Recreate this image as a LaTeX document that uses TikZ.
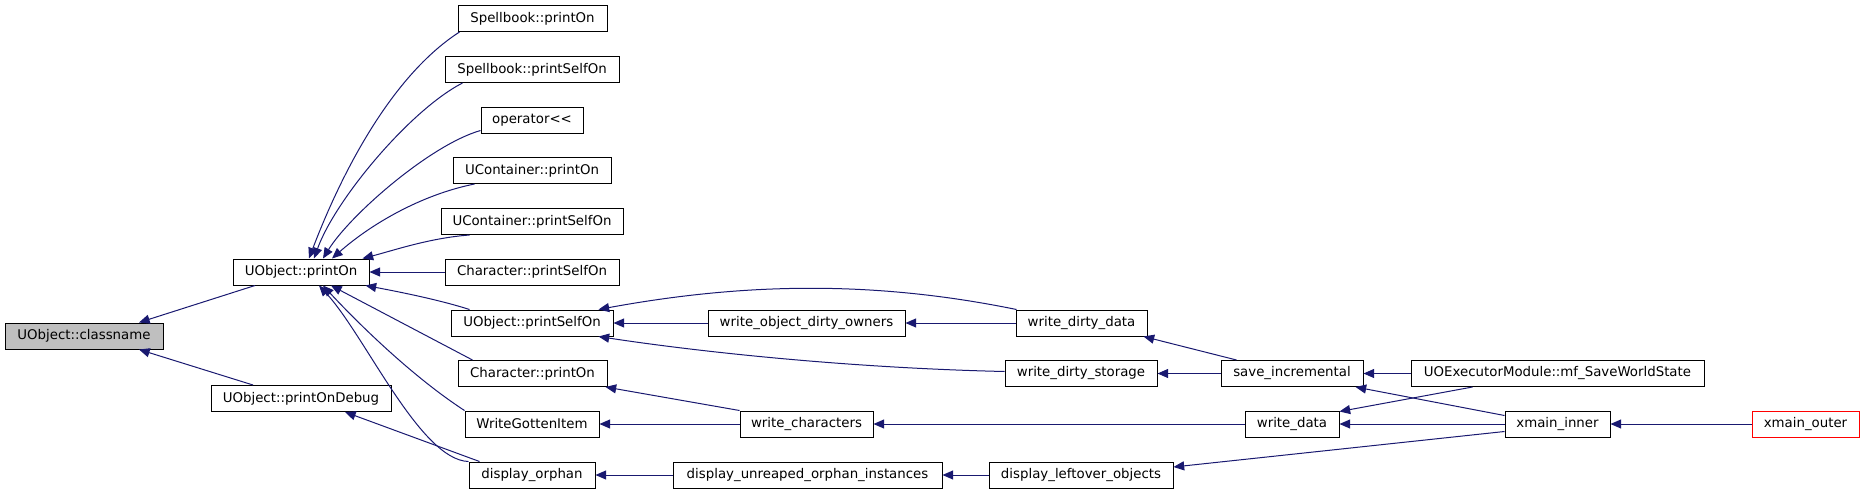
\documentclass[tikz,border=0pt]{standalone}
\usepackage{fontspec}
\setmainfont{DejaVu Sans}
\usetikzlibrary{calc,arrows.meta}
\definecolor{edgeblue}{HTML}{191970}
\definecolor{boxgray}{HTML}{BFBFBF}
\tikzset{
  box/.style={draw=black, line width=0.75pt, minimum height=19.5pt, inner sep=0pt,
    font=\fontsize{10pt}{12pt}\selectfont},
  bw/.style={minimum width=#1*0.75pt},
  arr/.style={draw=edgeblue, line width=0.75pt, {Triangle[length=8pt,width=6.8pt]}-},
}
\begin{document}
\begin{tikzpicture}[x=0.75pt, y=-0.75pt]
\useasboundingbox (0,0) rectangle (1864,493);
% column 0/1
\node[box, bw=158, fill=boxgray] (classname) at (84,336) {UObject::classname};
\node[box, bw=136] (printOn) at (301,272) {UObject::printOn};
\node[box, bw=180] (pod) at (301,398.5) {UObject::printOnDebug};
% column 2
\node[box, bw=149] (sbpo) at (532.5,18.5) {Spellbook::printOn};
\node[box, bw=174] (sbps) at (532,69.5) {Spellbook::printSelfOn};
\node[box, bw=102] (oper) at (532,120) {operator<{}<};
\node[box, bw=158] (ucpo) at (532,170.5) {UContainer::printOn};
\node[box, bw=182] (ucps) at (532,221.5) {UContainer::printSelfOn};
\node[box, bw=174] (cpso) at (532,272) {Character::printSelfOn};
\node[box, bw=162] (ops) at (532,323) {UObject::printSelfOn};
\node[box, bw=149] (cpo) at (532.5,373.5) {Character::printOn};
\node[box, bw=134] (wgi) at (532,424) {WriteGottenItem};
\node[box, bw=126] (dor) at (532,475) {display\_orphan};
% column 3
\node[box, bw=197] (wodo) at (806.5,323) {write\_object\_dirty\_owners};
\node[box, bw=133] (wch) at (806.5,424) {write\_characters};
\node[box, bw=269] (duoi) at (807.5,475) {display\_unreaped\_orphan\_instances};
% column 4
\node[box, bw=131] (wdd) at (1081.5,323) {write\_dirty\_data};
\node[box, bw=152] (wds) at (1081,373.5) {write\_dirty\_storage};
\node[box, bw=184] (dlo) at (1081,475) {display\_leftover\_objects};
% column 5
\node[box, bw=142] (sinc) at (1292,373.5) {save\_incremental};
\node[box, bw=94] (wdata) at (1292,424) {write\_data};
% column 6/7
\node[box, bw=293] (uoe) at (1557.5,373.5) {UOExecutorModule::mf\_SaveWorldState};
\node[box, bw=105] (xin) at (1557.5,424) {xmain\_inner};
\node[box, bw=107, draw=red] (xout) at (1805.5,424) {xmain\_outer};

% edges into classname
\draw[arr] ($(classname.north)+(55,0)$) -- ($(printOn.south)+(-46,0)$);
\draw[arr] ($(classname.south)+(55,0)$) -- ($(pod.north)+(-48,0)$);
% edges into printOn
\draw[arr] ($(printOn.north)+(8,0)$) .. controls (335,190) and (385,80) .. ($(sbpo.south west)+(2,0)$);
\draw[arr] ($(printOn.north)+(13,0)$) .. controls (335,200) and (410,110) .. ($(sbps.south west)+(18,0)$);
\draw[arr] ($(printOn.north)+(22,0)$) .. controls (350,215) and (430,145) .. ($(oper.south west)+(0,-3)$);
\draw[arr] ($(printOn.north)+(31,0)$) .. controls (370,225) and (420,195) .. ($(ucpo.south west)+(22,0)$);
\draw[arr] ($(printOn.north east)+(-7,0)$) .. controls (395,250) and (430,238) .. ($(ucps.south west)+(29,0)$);
\draw[arr] (printOn.east) -- (cpso.west);
\draw[arr] ($(printOn.south east)+(-4,0)$) .. controls (400,292) and (440,300) .. ($(ops.north west)+(19,0)$);
\draw[arr] ($(printOn.south)+(30,0)$) -- ($(cpo.north west)+(15,0)$);
\draw[arr] ($(printOn.south)+(22,0)$) .. controls (355,320) and (410,375) .. (wgi.north west);
\draw[arr] ($(printOn.south)+(18,0)$) .. controls (365,335) and (420,460) .. (dor.north west);
% edge into printOnDebug
\draw[arr] ($(pod.south)+(44,0)$) -- ($(dor.north west)+(11,0)$);
% edges into UObject::printSelfOn
\draw[arr] (ops.east) -- (wodo.west);
\draw[arr] ($(ops.north east)+(-15,0)$) .. controls (748,282) and (877,281) .. ($(wdd.north west)+(1,0)$);
\draw[arr] ($(ops.south east)+(-15,0)$) .. controls (700,352) and (850,368) .. ($(wds.west)+(0,-2)$);
% further edges
\draw[arr] (wodo.east) -- (wdd.west);
\draw[arr] ($(wdd.south east)+(-4,0)$) -- ($(sinc.north west)+(16,0)$);
\draw[arr] (wds.east) -- (sinc.west);
\draw[arr] (sinc.east) -- (uoe.west);
\draw[arr] ($(sinc.south east)+(-8,0)$) -- ($(xin.north west)+(0,5)$);
\draw[arr] ($(wdata.north east)+(0,1)$) -- ($(uoe.south west)+(62,0)$);
\draw[arr] (wdata.east) -- (xin.west);
\draw[arr] ($(dlo.east)+(0,-8)$) -- ($(xin.south west)+(0,-6)$);
\draw[arr] (xin.east) -- (xout.west);
\draw[arr] (wch.east) -- (wdata.west);
\draw[arr] ($(cpo.south east)+(-2,0)$) -- (wch.north west);
\draw[arr] (wgi.east) -- (wch.west);
\draw[arr] (dor.east) -- (duoi.west);
\draw[arr] (duoi.east) -- (dlo.west);
\end{tikzpicture}
\end{document}
